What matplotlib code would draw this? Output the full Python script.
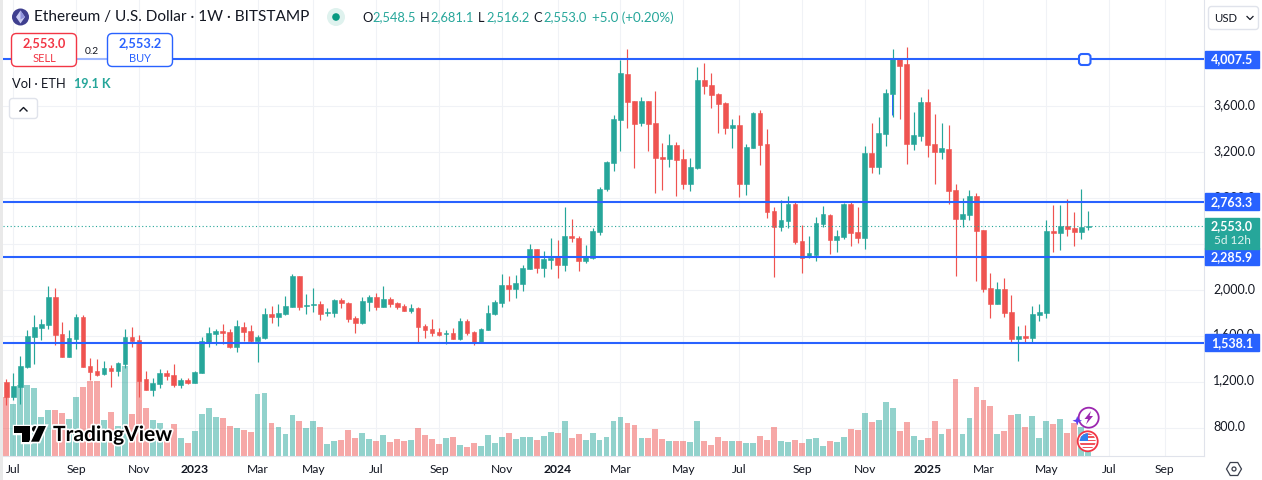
import numpy as np
import matplotlib
matplotlib.use('Agg')
from matplotlib import pyplot as plt
from matplotlib.patches import Circle, FancyBboxPatch, Polygon, Rectangle
from matplotlib.transforms import ScaledTranslation
import matplotlib.patheffects as pe

# weekly candles, ETHUSD Bitstamp
opens = [1194,1067,1154,1328,1586,1664,1690,1934,1612,1412,
         1568,1760,1333,1290,1264,1316,1290,1351,1586,1560,
         1220,1124,1177,1272,1255,1168,1212,1185,1272,1533,
         1612,1638,1629,1499,1673,1638,1551,1577,1786,1760,
         1786,1847,2116,1858,1867,1873,1794,1794,1908,1881,
         1751,1707,1890,1934,1847,1916,1881,1855,1812,1838,
         1681,1655,1629,1615,1620,1568,1725,1629,1542,1646,
         1786,1881,2038,2003,2047,2177,2351,2186,2256,2282,
         2212,2464,2447,2247,2273,2499,2873,3099,3473,3874,
         3639,3447,3639,3447,3152,3134,3256,3134,2917,3056,
         3821,3778,3700,3621,3404,3430,2917,3230,3534,3265,
         2682,2543,2595,2743,2421,2282,2299,2569,2647,2430,
         2456,2743,2499,2447,3186,3065,3352,3700,4004,3961,
         3265,3334,3630,3265,3195,3221,2864,2612,2647,2812,
         2517,2012,1873,2003,1803,1568,1594,1577,1777,1794,
         2508,2490,2551,2534,2499,2548.5]
closes = [1067,1159,1333,1594,1673,1699,1934,1603,1412,1577,
          1760,1325,1281,1261,1316,1290,1359,1586,1551,1203,
          1124,1185,1272,1246,1168,1212,1185,1281,1551,1620,
          1638,1620,1499,1681,1629,1551,1586,1786,1760,1794,
          1855,2116,1847,1864,1873,1786,1803,1908,1881,1742,
          1707,1899,1934,1847,1916,1873,1847,1812,1838,1673,
          1646,1620,1603,1620,1568,1725,1620,1542,1655,1794,
          1890,2038,2003,2055,2186,2351,2186,2264,2273,2212,
          2464,2447,2247,2282,2508,2873,3108,3482,3882,3630,
          3439,3639,3439,3143,3134,3256,3126,2917,3065,3821,
          3769,3691,3613,3404,3430,2917,3239,3534,3256,2673,
          2546,2603,2743,2412,2279,2316,2577,2656,2430,2464,
          2743,2490,2447,3186,3065,3360,3708,4004,3943,3265,
          3343,3630,3256,3195,3230,2856,2612,2656,2812,2508,
          2003,1873,2003,1794,1568,1594,1580,1786,1803,2508,
          2490,2551,2525,2499,2546,2553]
highs = [1226,1272,1420,1652,1777,1742,2029,2012,1716,1647,
         1786,1777,1403,1394,1377,1342,1368,1655,1673,1603,
         1290,1229,1307,1298,1351,1229,1229,1290,1586,1673,
         1655,1699,1655,1734,1716,1690,1603,1838,1855,1873,
         1942,2134,2116,1960,2012,1899,1838,1916,1925,1890,
         1768,1934,1951,1968,2029,1934,1890,1873,1873,1847,
         1699,1742,1664,1646,1664,1751,1742,1638,1664,1864,
         1907,2134,2116,2125,2212,2395,2351,2334,2447,2430,
         2717,2612,2464,2386,2534,2891,3117,3517,3995,4091,
         3639,3674,3639,3726,3273,3352,3282,3221,3143,3935,
         3969,3882,3708,3630,3482,3517,3265,3543,3561,3395,
         2717,2778,2812,2760,2560,2464,2630,2725,2656,2517,
         2751,2760,2717,3247,3447,3500,3743,4091,4004,4109,
         3543,3674,3743,3526,3447,3430,2917,2795,2865,2838,
         2517,2142,2064,2099,1951,1681,1690,1855,1873,2604,
         2734,2734,2786,2673,2873,2681]
lows = [994,1038,1003,1322,1351,1560,1655,1516,1412,1412,
        1481,1325,1212,1246,1255,1151,1246,1316,1499,1064,
        1124,1072,1142,1212,1151,1142,1177,1185,1272,1499,
        1516,1525,1490,1455,1551,1542,1368,1568,1707,1681,
        1777,1847,1820,1786,1803,1734,1768,1760,1838,1716,
        1620,1699,1812,1820,1847,1847,1829,1812,1794,1542,
        1577,1594,1594,1525,1568,1560,1603,1516,1533,1646,
        1777,1847,1899,1925,1986,2177,2142,2108,2177,2099,
        2160,2412,2160,2229,2264,2473,2856,3030,3204,3404,
        3056,3421,3204,2838,2865,3065,2812,2873,2856,3047,
        3700,3578,3360,3352,3230,2804,2821,3230,3082,2621,
        2108,2508,2534,2395,2142,2279,2247,2543,2308,2325,
        2438,2377,2403,2351,3012,3004,3247,3500,3482,3091,
        3212,3291,3152,2917,3134,2743,2116,2546,2604,2073,
        1977,1751,1873,1760,1533,1377,1533,1533,1725,1751,
        2325,2342,2464,2377,2438,2516]
# volume in thousands of ETH
volumes = [354,312,426,426,408,234,276,276,258,222,
           354,414,450,450,216,264,180,540,252,670,
           288,216,198,150,192,108,78,150,252,288,
           234,228,180,168,156,144,372,378,198,174,
           132,246,210,168,210,174,72,90,96,156,
           108,138,102,90,126,84,102,90,96,168,
           126,102,72,108,114,66,54,78,60,126,
           78,114,138,102,114,114,96,120,144,138,
           210,108,132,96,138,96,114,210,234,198,
           186,108,108,162,102,90,90,90,84,210,
           90,66,114,90,90,90,78,78,120,96,
           174,90,84,96,78,102,108,60,90,84,
           114,162,156,258,204,216,324,288,150,204,
           120,96,108,210,132,162,462,132,228,414,
           336,300,132,150,246,252,174,240,108,210,
           192,222,138,198,174,19.1]

month_pos = [1,10,19,27,36,44,53,62,71,79,88,97,105,114,123,132,140,149,158,166]
month_names = ['Jul','Sep','Nov','2023','Mar','May','Jul','Sep','Nov','2024','Mar','May','Jul','Sep','Nov','2025','Mar','May','Jul','Sep']
price_ticks = [800,1200,1600,2000,2400,2800,3200,3600]
levels = [4007.5,2763.3,2285.9,1538.1]
last_price = 2553.0

UP = '#26a69a'
DOWN = '#ef5350'
BLUE = '#2962ff'
INK = '#131722'
GRID = '#f0f2f6'
EDGE = '#e0e3eb'
FONT = 'Lato'

plt.rcParams['font.family'] = [FONT, 'DejaVu Sans']

W, H = 1262, 480
fig = plt.figure(figsize=(W / 100, H / 100), dpi=100, facecolor='white')
# plot area is x 3..1204, y 0..455.5 in pixels
ax = fig.add_axes([3 / W, (H - 455.5) / H, 1201 / W, 455.5 / H])
ax.set_xlim(-0.47, 171.6)
ax.set_ylim(557, 4521)

idx = np.arange(len(opens))
o = np.array(opens, dtype=float)
c = np.array(closes, dtype=float)
colors = [UP if b >= a else DOWN for a, b in zip(o, c)]

# volume pane: 1 px is 6K, bars sit on the bottom of the axes
vol_top = 455.5 * 6
ax.bar(idx, np.array(volumes) / vol_top, width=0.84, color=colors, alpha=0.5, linewidth=0,
       transform=ax.get_xaxis_transform(), zorder=1)

ax.vlines(idx, lows, highs, colors=colors, linewidth=0.85, zorder=3)
ax.bar(idx, np.abs(c - o), bottom=np.minimum(o, c), width=0.68, color=colors, edgecolor=colors,
       linewidth=0.4, zorder=4)
# stray blue stroke beside the wick of the Dec 2024 candle
ax.vlines(126.85, 3520, 3700, colors=BLUE, linewidth=0.7, zorder=3.5)

ax.axhline(last_price, color=UP, linewidth=0.8, linestyle=(0, (1, 2.2)), zorder=4.5)
for lvl in levels:
    ax.axhline(lvl, color=BLUE, linewidth=1.5, zorder=5)

ax.set_axisbelow(True)
ax.grid(True, color=GRID, linewidth=0.8)
ax.set_xticks(month_pos)
ax.set_xticklabels(month_names, fontsize=8.7, color=INK)
for lab in ax.get_xticklabels():
    if lab.get_text().startswith('20'):
        lab.set_fontweight('bold')
ax.yaxis.tick_right()
ax.set_yticks(price_ticks)
# 2,400 is fully behind the price boxes, so it gets a gridline and no label
ax.set_yticklabels(['' if p == 2400 else f'{p:,.1f}' for p in price_ticks], fontsize=9, color=INK)
ax.tick_params(axis='both', length=0)
ax.tick_params(axis='x', pad=6)
ax.tick_params(axis='y', pad=6.5)
# labels sit 2 px above their gridline in the reference, tick_params resets this so it goes after
nudge = ScaledTranslation(0, 2 / 100, fig.dpi_scale_trans)
for tick in ax.yaxis.get_major_ticks():
    tick.label2.set_verticalalignment('center_baseline')
    tick.label2.set_transform(tick.label2.get_transform() + nudge)
for side in ['left', 'top']:
    ax.spines[side].set_visible(False)
for side in ['right', 'bottom']:
    ax.spines[side].set_color(EDGE)
    ax.spines[side].set_linewidth(0.8)

# price labels on the scale
tr = ax.get_yaxis_transform()
box_w = 54 / 1201
for lvl in levels:
    ax.add_patch(Rectangle((1.0008, lvl - 74), box_w, 148, transform=tr, color=BLUE, clip_on=False, zorder=6))
    ax.text(1.0008 + box_w / 2, lvl, f'{lvl:,.1f}', transform=tr, color='white', fontsize=9, fontweight='bold',
            ha='center', va='center', clip_on=False, zorder=7)
ax.add_patch(Rectangle((1.0008, last_price - 200), box_w, 270, transform=tr, color=UP, clip_on=False, zorder=6))
ax.text(1.0008 + box_w / 2, last_price, f'{last_price:,.1f}', transform=tr, color='white', fontsize=9,
        fontweight='bold', ha='center', va='center', clip_on=False, zorder=7)
ax.text(1.0008 + box_w / 2, last_price - 125, '5d 12h', transform=tr, color='#dff3f0', fontsize=8.6,
        ha='center', va='center', clip_on=False, zorder=7)

# everything else is page furniture, laid out in pixels
ov = fig.add_axes([0, 0, 1, 1], zorder=10)
ov.set_xlim(0, W)
ov.set_ylim(H, 0)
ov.axis('off')
ov.patch.set_alpha(0)


def round_box(x, y, w, h, fc='white', ec='none', lw=1.0, r=3, **kw):
    p = FancyBboxPatch((x, y), w, h, boxstyle=f'round,pad=0,rounding_size={r}', fc=fc, ec=ec, lw=lw, **kw)
    ov.add_patch(p)


ov.add_patch(Rectangle((0, 0), 3, H, color='#e9e9e9', lw=0))

# header
ov.add_patch(Circle((20.5, 17), 8.5, fc='#3f3f8f', ec='none'))
ov.add_patch(Polygon([(20.5, 10.5), (25, 17), (20.5, 23.5), (16, 17)], fc='#c9cbf2', ec='none'))
ov.add_patch(Polygon([(20.5, 10.5), (25, 17), (20.5, 19.5)], fc='#8f92dc', ec='none'))
ov.text(34, 17, 'Ethereum / U.S. Dollar · 1W · BITSTAMP', fontsize=11.1, color=INK, va='center', ha='left')
ov.add_patch(Circle((336, 17), 9, fc='#dff2ee', ec='none'))
ov.add_patch(Circle((336, 17), 3.8, fc='#089981', ec='none'))
ohlc = [(362, 'O', '2,548.5'), (420, 'H', '2,681.1'), (478, 'L', '2,516.2'), (533, 'C', '2,553.0')]
for x, k, v in ohlc:
    ov.text(x, 17.5, k, fontsize=9.3, color=INK, va='center')
    ov.text(x + (8 if k == 'L' else 10), 17.5, v, fontsize=9.3, color=UP, va='center')
ov.text(592, 17.5, '+5.0 (+0.20%)', fontsize=9.6, color=UP, va='center')

# sell / buy
ov.add_patch(Rectangle((77, 50), 30, 18, fc='white', alpha=0.55, lw=0))
round_box(11.5, 33.5, 65, 33, ec='#f23645', r=5)
round_box(107.5, 33.5, 65, 33, ec=BLUE, r=5)
ov.text(44, 43.5, '2,553.0', fontsize=9.2, color='#f23645', ha='center', va='center', fontweight='bold')
ov.text(44, 58, 'SELL', fontsize=8, color='#f23645', ha='center', va='center')
ov.text(140, 43.5, '2,553.2', fontsize=9.2, color=BLUE, ha='center', va='center', fontweight='bold')
ov.text(140, 58, 'BUY', fontsize=8, color=BLUE, ha='center', va='center')
ov.text(92, 51, '0.2', fontsize=7.4, color=INK, ha='center', va='center')

# volume legend and collapse button
ov.text(12, 84, 'Vol · ETH', fontsize=9.3, color=INK, va='center')
ov.text(74, 84, '19.1 K', fontsize=9.1, color=UP, va='center', fontweight='bold')
round_box(9.5, 98.5, 28, 20, ec=EDGE, r=3)
ov.plot([20, 23.5, 27], [111, 107.5, 111], color=INK, lw=1)

# anchor on the top line
round_box(1079, 54, 11.5, 11, ec=BLUE, lw=1.5, r=3)

# USD box and settings icon
round_box(1208.5, 6.5, 50, 23, ec=EDGE, r=3)
ov.text(1214, 18, 'USD', fontsize=8.2, color=INK, va='center')
ov.plot([1247, 1250, 1253], [16.5, 19.5, 16.5], color=INK, lw=0.9)
ang = np.deg2rad(np.arange(0, 360, 60))
ov.add_patch(Polygon(np.c_[1234 + 7.5 * np.cos(ang), 469 + 7.5 * np.sin(ang)], fc='white', ec='#3a3f4c', lw=0.9))
ov.add_patch(Circle((1234, 469), 2, fc='white', ec='#3a3f4c', lw=0.9))

# watermark
halo = [pe.withStroke(linewidth=2.5, foreground='white')]
logo = [Polygon([(14, 426), (30, 426), (30, 441.7), (22, 441.7), (22, 432.5), (14, 432.5)], fc='black', ec='none'),
        Circle((35, 429), 3, fc='black', ec='none'),
        Polygon([(38.5, 426), (46, 426), (39, 441.7), (31, 441.7)], fc='black', ec='none')]
for s in logo:
    s.set_path_effects(halo)
    ov.add_patch(s)
ov.text(53, 435, 'TradingView', fontsize=15.1, color='black', fontweight='bold', va='center', path_effects=halo)

# event bubbles by the last candle
ov.add_patch(Circle((1088.7, 417.7), 10, fc='white', ec='#9c27b0', lw=1.3))
ov.add_patch(Polygon([(1091, 411), (1084.5, 419), (1088, 419), (1086, 424.5), (1093, 416), (1089.5, 416)], fc='#9c27b0', ec='none'))
ov.add_patch(Polygon([(1077.3, 416), (1078.5, 419.5), (1082, 420.7), (1078.5, 422), (1077.3, 425.5), (1076, 422), (1072.5, 420.7), (1076, 419.5)], fc='#5b3df0', ec='none'))
ov.add_patch(Circle((1087.7, 441.3), 10, fc='white', ec='#f23645', lw=1.3))
flag = Circle((1087.7, 441.3), 8, transform=ov.transData)
for i, y in enumerate(np.arange(433, 450, 3.4)):
    r = ov.add_patch(Rectangle((1079, y), 18, 1.7, fc='#f0545c', lw=0))
    r.set_clip_path(flag)
r = ov.add_patch(Rectangle((1079, 433), 9, 8, fc='#2f80ed', lw=0))
r.set_clip_path(flag)

fig.savefig('out.png', dpi=100)
